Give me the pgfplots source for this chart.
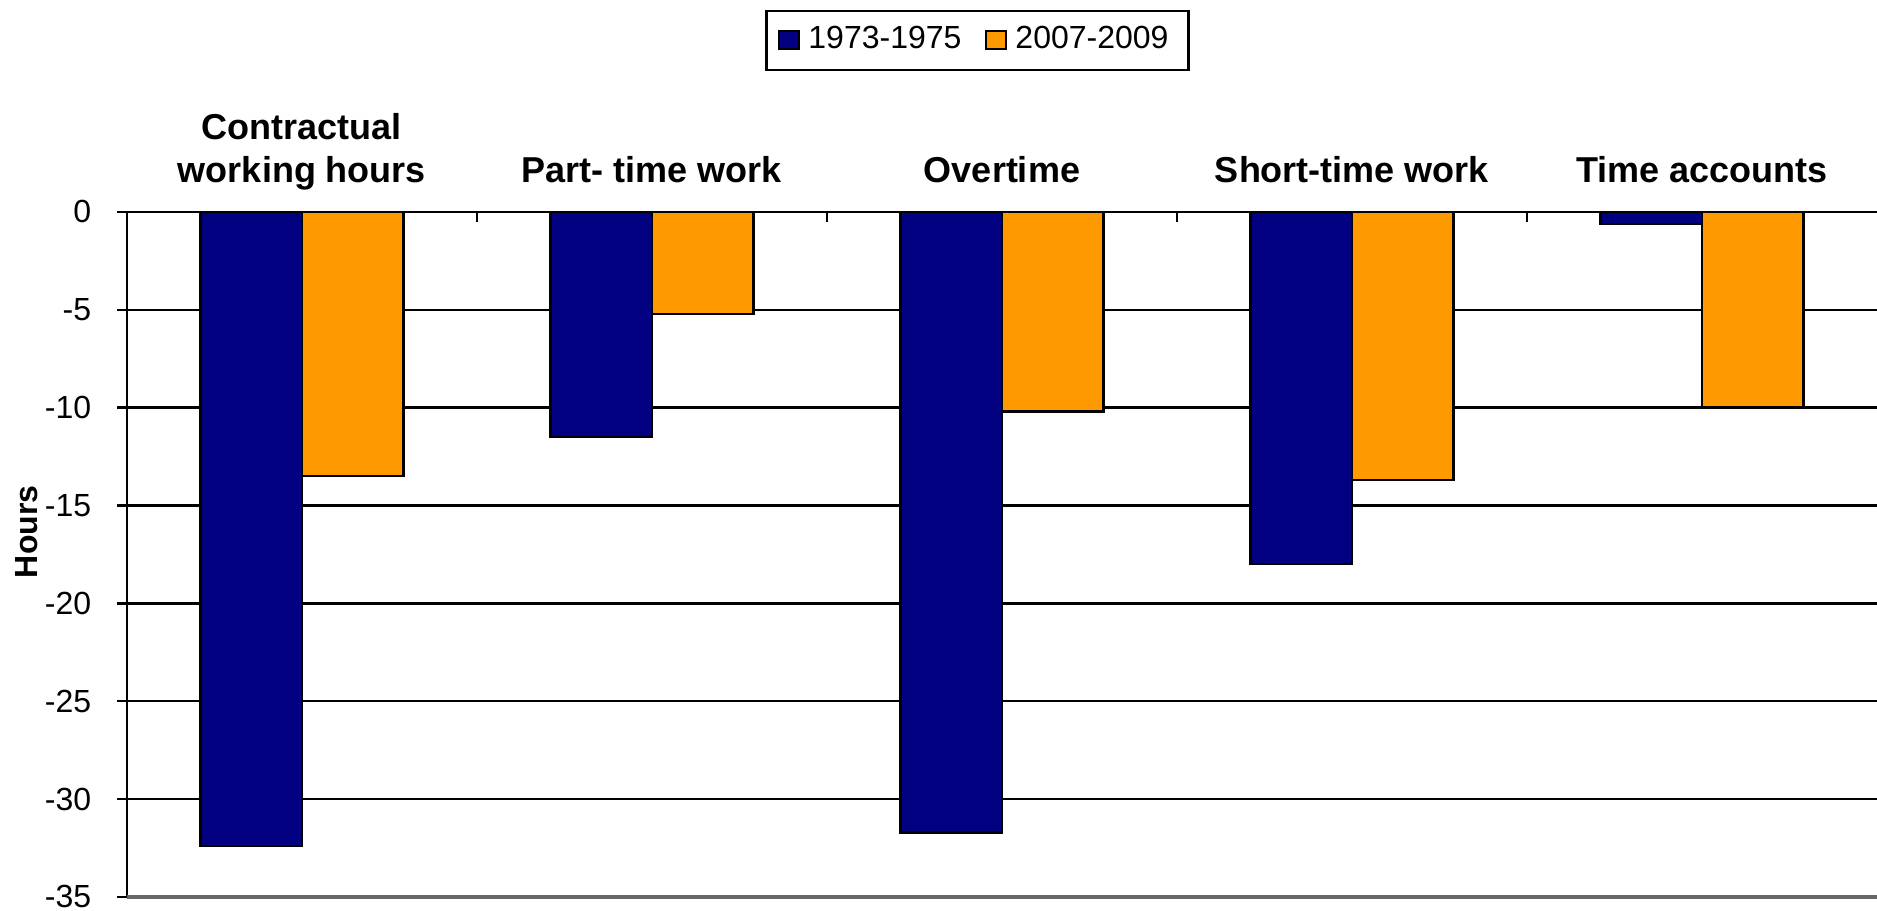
\documentclass[border=0pt]{standalone}
\usepackage{fontspec}
\setmainfont{Liberation Sans}
\usepackage{pgfplots}
\pgfplotsset{compat=1.18}
\definecolor{navyb}{RGB}{0,0,128}
\definecolor{orng}{RGB}{255,153,0}
\begin{document}
\begin{tikzpicture}
\begin{axis}[
  scale only axis, width=437.5pt, height=171.25pt,
  xmin=-0.5, xmax=4.5, ymin=-35, ymax=0,
  ybar=0pt, bar width=0.29,
  axis x line*=top, axis y line*=left,
  axis line style={-, line width=0.6pt, black},
  xtick={0,1,2,3,4},
  xticklabels={{Contractual\\working hours\strut},{Part- time work\strut},{Overtime\strut},{Short-time work\strut},{Time accounts\strut}},
  minor xtick={0.5,1.5,2.5,3.5},
  xtick align=inside, ytick align=outside,
  major x tick style={draw=none},
  minor x tick style={black, line width=0.6pt},
  minor tick length=2.5pt, major tick length=2.5pt,
  y tick style={black, line width=0.6pt},
  ytick={-30,-25,-20,-15,-10,-5,0},
  extra y ticks={-35},
  extra y tick style={major grid style={draw=gray!80!black, line width=0.9pt}},
  ymajorgrids, major grid style={black, line width=0.6pt},
  /pgf/number format/assume math mode=true,
  yticklabel style={font=\fontsize{8}{9.6}\selectfont, anchor=east, inner sep=0pt, xshift=-6.25pt},
  xticklabel style={font=\bfseries\fontsize{9}{10.8}\selectfont, align=center, anchor=south, inner sep=0pt, yshift=4pt},
  every axis y label/.style={at={(axis description cs:-0.0571,0.533)}, rotate=90, anchor=center, font=\bfseries\fontsize{8}{9.6}\selectfont},
  ylabel={Hours},
  legend style={at={(0.486,1.2950)}, anchor=north, draw=black, line width=0.6pt, font=\fontsize{8}{9.6}\selectfont, legend columns=2, inner xsep=3pt, inner ysep=1.8pt, /tikz/every even column/.append style={column sep=4pt}},
  legend image code/.code={\draw[#1, draw=black, line width=0.5pt] (0pt,-2.25pt) rectangle (5pt,2.25pt);},
]
\addplot[fill=navyb, draw=black, line width=0.6pt] coordinates {(0,-32.4) (1,-11.5) (2,-31.7) (3,-18.0) (4,-0.6)};
\addplot[fill=orng, draw=black, line width=0.6pt] coordinates {(0,-13.5) (1,-5.2) (2,-10.2) (3,-13.7) (4,-10.0)};
\legend{1973-1975, 2007-2009}
\coordinate (bl) at (rel axis cs:0,0);
\coordinate (tr) at (rel axis cs:1,1);
\end{axis}
\pgfresetboundingbox
\path[use as bounding box] ([xshift=-31.75pt,yshift=-3.5pt]bl) rectangle ([yshift=53pt]tr);
\end{tikzpicture}
\end{document}
